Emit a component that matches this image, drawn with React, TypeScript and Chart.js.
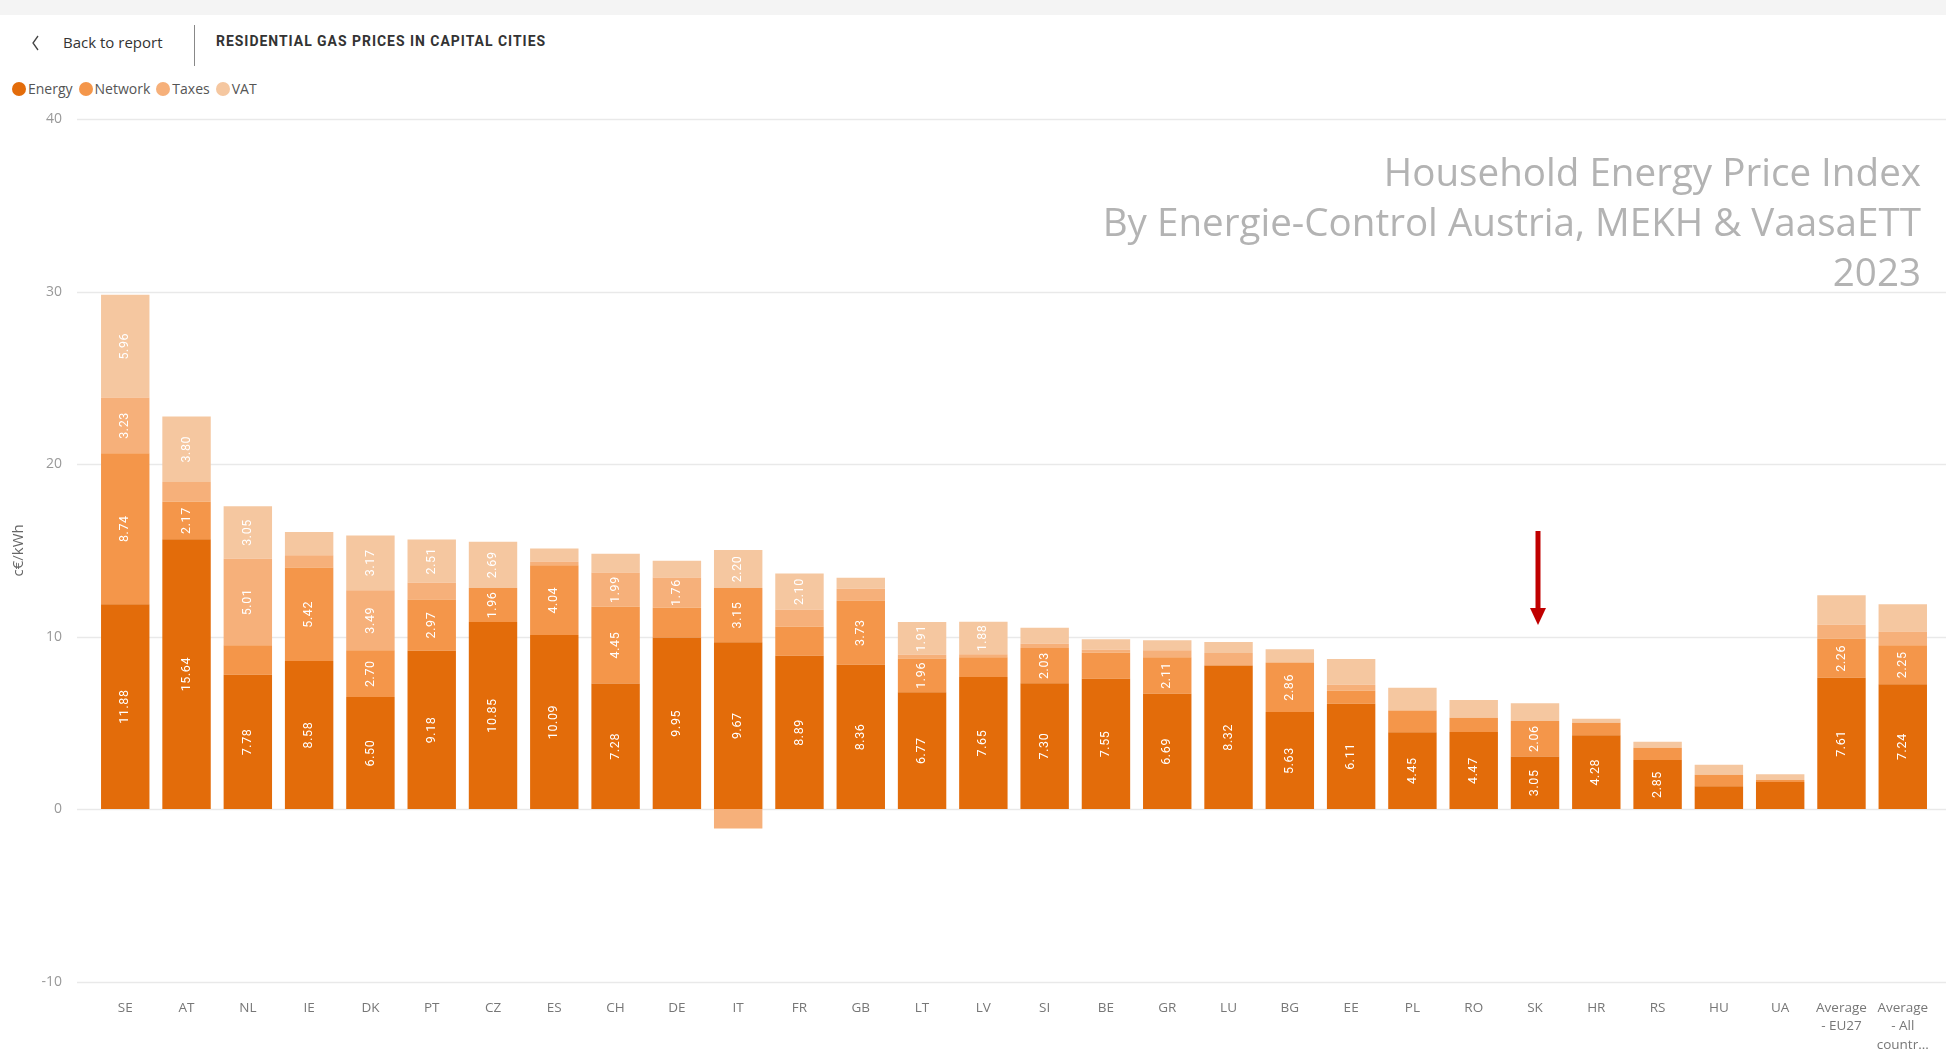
import React, { useEffect, useRef } from "react";
import { Chart, registerables } from "chart.js";

Chart.register(...registerables);

// ---- Data (c€/kWh) ----
const categories = [
  "SE", "AT", "NL", "IE", "DK", "PT", "CZ", "ES", "CH", "DE", "IT", "FR", "GB", "LT", "LV",
  "SI", "BE", "GR", "LU", "BG", "EE", "PL", "RO", "SK", "HR", "RS", "HU", "UA",
  "Average - EU27", "Average - All countries",
];
const xTickLabels: (string | string[])[] = [
  "SE", "AT", "NL", "IE", "DK", "PT", "CZ", "ES", "CH", "DE", "IT", "FR", "GB", "LT", "LV",
  "SI", "BE", "GR", "LU", "BG", "EE", "PL", "RO", "SK", "HR", "RS", "HU", "UA",
  ["Average", "- EU27"], ["Average", "- All", "countr..."],
];
const energy = [11.88, 15.64, 7.78, 8.58, 6.50, 9.18, 10.85, 10.09, 7.28, 9.95, 9.67, 8.89, 8.36, 6.77, 7.65,
  7.30, 7.55, 6.69, 8.32, 5.63, 6.11, 4.45, 4.47, 3.05, 4.28, 2.85, 1.33, 1.57, 7.61, 7.24];
const network = [8.74, 2.17, 1.72, 5.42, 2.70, 2.97, 1.96, 4.04, 4.45, 1.72, 3.15, 1.68, 3.73, 1.96, 1.15,
  2.03, 1.51, 2.11, 0, 2.86, 0.75, 1.26, 0.83, 2.06, 0.73, 0.70, 0.66, 0.12, 2.26, 2.25];
const taxes = [3.23, 1.15, 5.01, 0.72, 3.49, 0.97, 0, 0.22, 1.99, 1.76, -1.12, 0.99, 0.68, 0.21, 0.18,
  0.25, 0.17, 0.41, 0.72, 0, 0.35, 0, 0, 0, 0, 0, 0, 0, 0.81, 0.81];
const vat = [5.96, 3.80, 3.05, 1.34, 3.17, 2.51, 2.69, 0.76, 1.08, 0.97, 2.20, 2.10, 0.64, 1.91, 1.88,
  0.93, 0.62, 0.58, 0.64, 0.77, 1.49, 1.33, 1.02, 1.02, 0.23, 0.35, 0.58, 0.33, 1.72, 1.57];

const seriesNames = ["Energy", "Network", "Taxes", "VAT"];
const seriesColors = ["#E36C0A", "#F4964A", "#F6B07A", "#F5C7A0"];
const yTicks = [-10, 0, 10, 20, 30, 40];
const labelMin = 1.75;
const highlighted = "SK";

const gridPlugin = {
  id: "fullGrid",
  beforeDatasetsDraw(chart: any) {
    const { ctx } = chart;
    const y = chart.scales.y;
    ctx.save();
    ctx.strokeStyle = "#E9E9E9";
    ctx.lineWidth = 1.5;
    yTicks.forEach((t) => {
      const py = Math.round(y.getPixelForValue(t)) + 0.5;
      ctx.beginPath();
      ctx.moveTo(77, py);
      ctx.lineTo(chart.width, py);
      ctx.stroke();
    });
    ctx.restore();
  },
};

const labelPlugin = {
  id: "segLabels",
  afterDatasetsDraw(chart: any) {
    const { ctx } = chart;
    ctx.save();
    ctx.fillStyle = "#FFFFFF";
    ctx.font = "12.5px Roboto";
    try { (ctx as any).letterSpacing = "0.6px"; } catch (e) { /* ignore */ }
    ctx.textAlign = "center";
    ctx.textBaseline = "middle";
    chart.data.datasets.forEach((ds: any, di: number) => {
      const meta = chart.getDatasetMeta(di);
      meta.data.forEach((bar: any, i: number) => {
        const v = ds.data[i];
        if (Math.abs(v) < labelMin) return;
        const { x, y, base } = bar.getProps(["x", "y", "base"], true);
        ctx.save();
        ctx.translate(x, (y + base) / 2);
        ctx.rotate(-Math.PI / 2);
        ctx.fillText(v.toFixed(2), 0, 0);
        ctx.restore();
      });
    });
    ctx.restore();
  },
};

export default function App() {
  const canvasRef = useRef<HTMLCanvasElement | null>(null);

  useEffect(() => {
    if (!canvasRef.current) return;
    const values = [energy, network, taxes, vat];
    const chart = new Chart(canvasRef.current, {
      type: "bar",
      data: {
        labels: categories,
        datasets: seriesNames.map((name, i) => ({
          label: name,
          data: values[i],
          backgroundColor: seriesColors[i],
          borderWidth: 0,
          categoryPercentage: 1,
          barPercentage: 0.79,
        })),
      },
      options: {
        responsive: false,
        animation: false,
        layout: { padding: { top: 0, right: 10.3, left: 0, bottom: 0 } },
        plugins: { legend: { display: false }, tooltip: { enabled: false } },
        scales: {
          x: {
            stacked: true,
            grid: { display: false, drawTicks: false },
            border: { display: false },
            afterFit: (s: any) => { s.height = 77.4; },
            ticks: {
              autoSkip: false,
              maxRotation: 0,
              padding: 17,
              color: "#777777",
              font: { family: "'Open Sans', sans-serif", size: 13.5, lineHeight: 1.38 },
              callback: (_v: any, i: number) => xTickLabels[i],
            },
          },
          y: {
            stacked: true,
            min: -10,
            max: 40,
            grid: { display: false, drawTicks: false },
            border: { display: false },
            afterFit: (s: any) => { s.width = 94.6; },
            ticks: {
              stepSize: 10,
              padding: 32.6,
              color: "#999999",
              font: { family: "'Open Sans', sans-serif", size: 14 },
            },
            title: {
              display: true,
              text: "c€/kWh",
              color: "#666666",
              padding: { top: 10, bottom: 0 },
              font: { family: "'Open Sans', sans-serif", size: 15 },
            },
          },
        },
      },
      plugins: [gridPlugin, labelPlugin],
    });
    return () => chart.destroy();
  }, []);

  const hiIdx = categories.indexOf(highlighted);

  return (
    <div style={{ position: "absolute", left: 0, top: 0, width: 1946, height: 1059, background: "#fff", overflow: "hidden", fontFamily: "'Open Sans', sans-serif" }}>
      <div style={{ position: "absolute", left: 0, top: 0, width: 1946, height: 15, background: "#F4F4F4" }} />
      <svg style={{ position: "absolute", left: 31, top: 35 }} width="10" height="16">
        <polyline points="7,1 2,8 7,15" fill="none" stroke="#444" strokeWidth="1.3" />
      </svg>
      <div style={{ position: "absolute", left: 63, top: 32, fontSize: 15, color: "#333", lineHeight: "20px", whiteSpace: "nowrap" }}>Back to report</div>
      <div style={{ position: "absolute", left: 194, top: 25, width: 1, height: 41, background: "#888" }} />
      <div style={{ position: "absolute", left: 216, top: 31, fontSize: 15.5, fontWeight: 700, fontFamily: "Roboto, sans-serif", color: "#333", letterSpacing: 1.1, lineHeight: "20px", whiteSpace: "nowrap", transform: "scaleX(0.9)", transformOrigin: "left center" }}>
        RESIDENTIAL GAS PRICES IN CAPITAL CITIES
      </div>
      <div style={{ position: "absolute", left: 12, top: 79, display: "flex", alignItems: "center", fontSize: 14, color: "#555", lineHeight: "20px", whiteSpace: "nowrap" }}>
        {seriesNames.map((n, i) => (
          <div key={n} style={{ display: "flex", alignItems: "center", marginRight: 6 }}>
            <span style={{ display: "inline-block", width: 14, height: 14, borderRadius: 7, background: seriesColors[i], marginRight: 2 }} />
            <span>{n}</span>
          </div>
        ))}
      </div>
      <div style={{ position: "absolute", left: 0, top: 78, width: 1946, height: 981 }}>
        <canvas ref={canvasRef} width={1946} height={981} />
      </div>
      <div style={{ position: "absolute", right: 25, top: 146, textAlign: "right", fontSize: 38.6, lineHeight: "50px", color: "#B3B3B3", whiteSpace: "nowrap" }}>
        <div>Household Energy Price Index</div>
        <div>By Energie-Control Austria, MEKH &amp; VaasaETT</div>
        <div>2023</div>
      </div>
      {hiIdx >= 0 && (
        <svg style={{ position: "absolute", left: 1528, top: 530 }} width="20" height="96">
          <line x1="10" y1="1" x2="10" y2="80" stroke="#C00000" strokeWidth="5" />
          <polygon points="2,78 18,78 10,95" fill="#C00000" />
        </svg>
      )}
    </div>
  );
}
